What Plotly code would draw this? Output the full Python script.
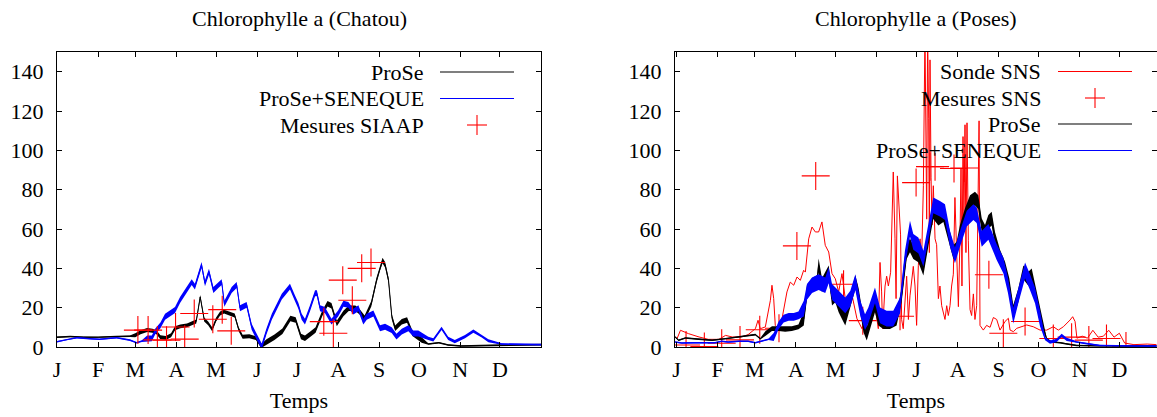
import numpy as np
import plotly.graph_objects as go

# ---------------- Chatou ----------------
chatou_prose_day = [0, 10, 20, 31, 45, 55, 59, 63, 68, 72, 75, 78, 82, 86, 89, 93, 98, 102, 105, 108,
                    111, 114, 117, 120, 123, 126, 130, 134, 137, 140, 145, 150, 154, 158, 164, 170, 176,
                    180, 184, 187, 191, 195, 200, 204, 207, 211, 216, 220, 225, 228, 232, 237, 241,
                    243.5, 245.5, 247.5, 250, 252.5, 255, 260, 264, 268, 275, 280, 288, 295, 305, 320,
                    340, 365]
chatou_prose_val = [5.0, 5.3, 5.0, 4.9, 5.3, 5.5, 6.0, 7.5, 8.6, 8.3, 7.5, 5.0, 4.6, 6.0, 9.5, 10.5,
                    11, 12, 13, 25.5, 14, 12, 9, 14, 17, 18, 17, 16, 9, 5.2, 5.5, 4.5, 0.5, 2.5, 5, 8,
                    14.5, 13.7, 5.3, 4.4, 6.5, 8.6, 17, 22, 21, 12, 17, 19.7, 19.7, 18, 14.6, 22, 34,
                    40, 44, 41.7, 34, 15.4, 9.5, 12.9, 13.7, 7, 3.6, 1.5, 2.2, 1.0, 0.5, 0.8, 1.0, 1.2]
chatou_prose_band_breaks = [58, 155, 275]
chatou_prose_band_half = [0.4, 1.0, 1.4, 0.4]

chatou_seneque_day = [0, 8, 15, 25, 32, 45, 55, 60, 64, 68, 71.5, 74, 78, 81.5, 85, 89, 92.8, 97.8,
                      101.6, 104, 109, 111.6, 114.6, 117.9, 121.7, 124.2, 126.2, 131.7, 135.5, 138,
                      143, 146.8, 150, 154.4, 158, 162, 169.5, 175.7, 179.5, 182, 184.5, 187, 190.8,
                      194.6, 196, 198.4, 202, 207, 212, 216, 219.7, 223.5, 227.3, 231, 233.6, 238.6,
                      243.6, 247.4, 252.4, 256, 260, 265, 268.7, 272.5, 280, 283.8, 290, 295, 300,
                      307.7, 314, 320.3, 325.3, 335.4, 345, 355.5, 365]
chatou_seneque_val = [2.7, 3.9, 4.7, 4.2, 3.9, 4.7, 3.5, 2.2, 3.0, 4.4, 4.4, 7.8, 11, 15.4, 17, 18.8,
                      23.9, 29, 33, 30.7, 41.7, 32.4, 38.3, 29, 31.5, 33, 22, 29, 31.5, 19.7, 21.4,
                      10.3, 6, 0.3, 8, 15.4, 25.6, 30.7, 24.7, 21, 15.4, 12.9, 19.7, 27.3, 27.3, 19.7,
                      18.8, 12.9, 17, 22, 21.4, 18, 19.7, 12.9, 15.4, 17, 9.5, 10.3, 8.6, 5.3, 7.8,
                      9.5, 6.9, 6.9, 4.4, 3.6, 9.5, 4.4, 2.7, 5.3, 8.1, 5.6, 3.2, 1.5, 1.5, 1.2, 1.2]
chatou_seneque_band_breaks = [66, 275, 330]
chatou_seneque_band_half = [0.4, 1.5, 0.8, 0.4]

siaap_day = [61, 68.7, 75.7, 82.6, 89.4, 96.3, 103.5, 117.5, 124.6, 131.4,
             201.2, 208.4, 215.5, 222.7, 229.8, 236.8]
siaap_val = [8.6, 8.6, 3.6, 3.4, 10.2, 4.0, 17, 14.1, 19, 8.2,
             12.9, 7.0, 34, 23.8, 40, 43]

# ---------------- Poses ----------------
sonde_day = [-1, 0.4, 3, 9, 17, 24, 32, 37, 42, 49, 54, 59.5, 61.5, 63.2, 67, 70.8, 72, 73.3, 74.5,
             77, 79.6, 83.3, 85.8, 88.4, 90.9, 93.4, 95.9, 97.2, 99.7, 102.2, 104.7, 107.2, 109.7,
             112.2, 114.8, 117.3, 119.8, 122.3, 124.8, 127.3, 129.8, 132.4, 136.1, 139.9, 142.4,
             146, 149.7, 152.2, 153.5, 154.7, 155.5, 157.3, 158.5, 159.8, 161.5, 163.5, 164.8,
             165.6, 166.6, 168, 169, 169.8, 171, 173.6, 174.9, 176.1, 178.6, 179.9, 181.1, 182.4,
             183.7, 184.9, 186.2, 187.4, 188.2, 188.7, 189.4, 190.2, 190.7, 191.2, 192, 192.7,
             193.7, 195, 196.2, 197.5, 198.7, 200, 202.5, 203.8, 205, 206.3, 207.5, 208.8, 210,
             211.3, 212.6, 213.8, 214.6, 215.3, 216.1, 216.8, 217.6, 218.3, 219.1, 220.1, 221.4,
             222.6, 223.9, 225.1, 226.4, 228.2, 228.9, 231.4, 233.9, 236.5, 239, 241.5, 244,
             247.8, 250.3, 251.6, 254.1, 256.6, 260.3, 264.1, 269.1, 274.2, 279.2, 284.2, 288,
             291.8, 296.8, 298.8, 300.6, 302, 306, 310, 314, 318, 322, 326, 330, 334, 338, 345,
             355, 362]
sonde_val = [5.1, 4.2, 8.5, 6.8, 5.1, 3.9, 3.9, 5.9, 5.1, 5.1, 6.3, 9.3, 13.6, 9.3, 10.2, 23.7, 31.4,
             24.6, 11, 9.3, 14.4, 28, 33, 31.4, 35.6, 33.9, 39, 38.1, 55, 61, 58.5, 58.5, 63.6, 51.7,
             48.3, 37.3, 34.7, 28, 37.3, 24.6, 22.9, 26.3, 14.4, 9.3, 14.4, 16, 21, 9.3, 43, 28, 9.3,
             31, 36, 31, 38, 89, 55, 24.6, 87, 65, 57, 14, 9.3, 36, 14, 26, 41, 31, 11, 41.5, 55,
             45, 82, 160, 107, 65, 160, 116, 48, 146, 86, 62, 82, 55, 52, 24.6, 31, 21, 14, 21, 16,
             21, 31, 37, 76, 44, 20.5, 55, 91, 31, 107, 65, 113, 48, 114, 54, 19, 16, 27, 14, 21,
             115, 11, 8.6, 11, 10, 15, 14, 8.6, 13, 14.6, 8.6, 7.8, 9.5, 10.3, 11.2, 10.3, 8.6, 8.6,
             10.3, 8.6, 10.3, 13.7, 15.4, 13, 4.5, 5.5, 4.5, 8.5, 5, 5.5, 8.5, 5, 7, 2, 1.2, 1.5,
             1.2]

sns_day = [7.2, 21, 34.1, 47.9, 62.8, 77.3, 90.8, 105, 126, 140.5, 168.6, 180.7, 191.2, 195,
           209.3, 217, 235.6, 246.5, 262.9, 284.2, 298, 311, 324.3, 339]
sns_val = [1.0, 0.2, 1.9, 3.6, 8.8, 9.5, 51.4, 87, 31.9, 13.4, 15.6, 83.6, 91.7, 91.7,
           90.8, 91, 36.7, 7, 13, 4.3, 5, 3.5, 4.3, 0.5]

poses_prose_day = [-1, 1.6, 6.7, 16.7, 26.8, 36.8, 46.9, 54.4, 59.5, 63.2, 67, 72, 77, 82, 87, 92,
                   96, 98.4, 102.2, 106, 107.2, 109.7, 112.2, 114.8, 117.3, 119.8, 122.3, 124.8,
                   127.3, 129.8, 134.9, 137.4, 141, 143.5, 146, 149.7, 152.2, 156, 161, 166, 169.8,
                   173.6, 176.1, 178.6, 182.4, 186.2, 190, 193.7, 197.5, 201.3, 205, 208.8, 211.3,
                   213.8, 217.6, 221.4, 225.1, 227.6, 230.2, 232.7, 235.2, 237.7, 240.2, 244, 247.8,
                   251, 254, 257.8, 261.6, 265.4, 267.9, 271.7, 275.4, 279.2, 283, 289.3, 294.3,
                   301.8, 319.4, 362]
poses_prose_val = [5.1, 3.4, 4.6, 3.9, 3.4, 4.2, 5.1, 5.9, 6.3, 4.2, 6.8, 9.3, 9.3, 9, 9.3, 10.2,
                   14.4, 28, 31.4, 33, 41.5, 31.4, 34.7, 38, 24.6, 26.3, 21.2, 17.8, 14.4, 19.5, 33,
                   26.3, 11, 6.8, 12.7, 21.2, 14.4, 12.7, 12.7, 14.4, 26.3, 48.3, 51.7, 48.3, 46.6,
                   39.8, 55, 68.6, 65.3, 67, 58.5, 48.3, 50, 58.5, 67, 73.7, 75.4, 73.7, 61.9, 58.5,
                   63.6, 65.3, 55, 46, 39.8, 31.4, 17.8, 26.3, 38, 34.7, 36.4, 24.6, 12.7, 4.2, 2.5,
                   2.2, 1.5, 0.8, 0.5, 0.5]
poses_prose_band_breaks = [65, 95, 277]
poses_prose_band_half = [0.4, 1.2, 3.5, 0.4]

poses_seneque_day = [-1, 4, 12, 22, 29, 34, 39, 47, 54, 59.5, 64.5, 69.5, 73.3, 77, 80.8, 84.6,
                     88.4, 92, 96, 98.4, 102.2, 107.2, 112.2, 114.8, 117.3, 122.3, 127.3, 131.1,
                     134.9, 138.7, 142.2, 144.7, 149.7, 153.5, 158.5, 163.5, 168.6, 172.3, 176.1,
                     178.6, 182.4, 186.2, 190, 193.7, 198.7, 202.5, 206.3, 210, 213.8, 218.9, 223.9,
                     226.4, 230.2, 235.2, 237.7, 241.5, 246.5, 250, 254, 257.8, 262.9, 266.6, 270.4,
                     274.2, 278, 281.7, 286.7, 290.5, 294.3, 301.8, 309.4, 319.4, 344.6, 362]
poses_seneque_val = [2.5, 2.0, 2.2, 2.2, 2.2, 2.9, 2.5, 2.9, 2.9, 2.2, 2.9, 3.9, 5.1, 11, 14.4,
                     15.3, 15.3, 16.1, 19.5, 28, 31.4, 33, 31.4, 36.4, 28, 24.6, 21.2, 24.6, 33,
                     19.5, 12.7, 16.1, 26.3, 16.1, 14.4, 14.4, 21.2, 44.9, 60.2, 53.4, 51.7, 44.9,
                     58.5, 72, 70.3, 68.6, 55, 46.6, 55, 65.3, 68.6, 67, 55, 58.5, 55, 48.3, 41.5,
                     31.4, 16, 26.3, 39, 33, 26.3, 14.4, 4.2, 2.5, 3.4, 5.9, 3.9, 2.5, 1.7, 0.8, 0.5,
                     0.5]
poses_seneque_band_breaks = [70, 95, 277, 300]
poses_seneque_band_half = [0.4, 2.0, 4.0, 0.8, 0.4]

month_starts = [0, 31, 59, 90, 120, 151, 181, 212, 243, 273, 304, 334]
month_labels = ["J", "F", "M", "A", "M", "J", "J", "A", "S", "O", "N", "D"]
y_ticks = [0, 20, 40, 60, 80, 100, 120, 140]

BLACK, BLUE, RED = "#000000", "#0000ff", "#ff0000"
FONT = "Times New Roman, Liberation Serif, DejaVu Serif, serif"
FSIZE = 22
W, H = 1157, 417

# Plot-area box in page pixels
ML, MT, MB = 57, 52, 70
PW, PH = W - ML, H - MT - MB


def band_traces(days, vals, breaks, halfwidths, color, xa, ya):
    """Noisy model output: a filled envelope plus the central line."""
    d = np.asarray(days, float)
    v = np.asarray(vals, float)
    hw = np.asarray(halfwidths, float)[np.searchsorted(breaks, d)]
    upper, lower = v + hw, np.clip(v - hw, -5, None)
    env = go.Scatter(x=np.concatenate([d, d[::-1]]), y=np.concatenate([upper, lower[::-1]]),
                     fill="toself", fillcolor=color, mode="lines", line=dict(width=0, color=color),
                     hoverinfo="skip", showlegend=False, xaxis=xa, yaxis=ya)
    line = go.Scatter(x=d, y=v, mode="lines", line=dict(color=color, width=1),
                      showlegend=False, xaxis=xa, yaxis=ya)
    return [env, line]


def crosses(days, vals, xa, ya):
    return go.Scatter(x=days, y=vals, mode="markers",
                      marker=dict(symbol="cross-thin", size=20, line=dict(color=RED, width=1.1)),
                      showlegend=False, xaxis=xa, yaxis=ya)


fig = go.Figure()

# Chatou (left)
for t in band_traces(chatou_prose_day, chatou_prose_val, chatou_prose_band_breaks,
                     chatou_prose_band_half, BLACK, "x", "y"):
    fig.add_trace(t)
for t in band_traces(chatou_seneque_day, chatou_seneque_val, chatou_seneque_band_breaks,
                     chatou_seneque_band_half, BLUE, "x", "y"):
    fig.add_trace(t)
fig.add_trace(crosses(siaap_day, siaap_val, "x", "y"))

# Poses (right)
fig.add_trace(go.Scatter(x=sonde_day, y=sonde_val, mode="lines", line=dict(color=RED, width=1),
                         showlegend=False, xaxis="x2", yaxis="y2"))
fig.add_trace(crosses(sns_day, sns_val, "x2", "y2"))
for t in band_traces(poses_prose_day, poses_prose_val, poses_prose_band_breaks,
                     poses_prose_band_half, BLACK, "x2", "y2"):
    fig.add_trace(t)
for t in band_traces(poses_seneque_day, poses_seneque_val, poses_seneque_band_breaks,
                     poses_seneque_band_half, BLUE, "x2", "y2"):
    fig.add_trace(t)

frame = dict(showline=True, linecolor="black", linewidth=1.2, mirror="ticks", ticks="inside",
             ticklen=5, tickwidth=1, tickcolor="black", showgrid=False, zeroline=False,
             automargin=False, tickfont=dict(family=FONT, size=FSIZE, color="black"))

xcommon = dict(frame, tickvals=month_starts, ticktext=month_labels, ticklabelstandoff=2,
               title=dict(text="Temps", font=dict(family=FONT, size=FSIZE, color="black"),
                          standoff=12))
ycommon = dict(frame, range=[0, 150], tickvals=y_ticks, ticklabelstandoff=8)

fig.update_layout(
    width=W, height=H, margin=dict(l=ML, r=0, t=MT, b=MB, autoexpand=False),
    paper_bgcolor="white", plot_bgcolor="white", showlegend=False,
    font=dict(family=FONT, size=FSIZE, color="black"),
    xaxis=dict(xcommon, domain=[0, 484 / PW], range=[0, 365], anchor="y"),
    yaxis=dict(ycommon, domain=[0, 1], anchor="x"),
    xaxis2=dict(xcommon, domain=[(675 - ML) / PW, 1.0], range=[-1.13, 362.4], anchor="y2"),
    yaxis2=dict(ycommon, domain=[0, 1], anchor="x2"),
)


def px(x):
    return (x - ML) / PW


def py(y):
    return (H - MB - y) / PH


# Titles
for cx, txt in [(299, "Chlorophylle a (Chatou)"), (916, "Chlorophylle a (Poses)")]:
    fig.add_annotation(x=px(cx), y=py(18), xref="paper", yref="paper", text=txt,
                       showarrow=False, xanchor="center", yanchor="middle",
                       font=dict(family=FONT, size=FSIZE, color="black"))

# Legends: right-aligned text followed by a line or cross sample
legend_left = [("ProSe", "line", BLACK), ("ProSe+SENEQUE", "line", BLUE),
               ("Mesures SIAAP", "cross", RED)]
legend_right = [("Sonde SNS", "line", RED), ("Mesures SNS", "cross", RED),
                ("ProSe", "line", BLACK), ("ProSe+SENEQUE", "line", BLUE)]


def draw_legend(entries, text_right, s0, s1, rows):
    for (label, kind, color), ry in zip(entries, rows):
        fig.add_annotation(x=px(text_right), y=py(ry), xref="paper", yref="paper", text=label,
                           showarrow=False, xanchor="right", yanchor="middle",
                           font=dict(family=FONT, size=FSIZE, color="black"))
        if kind == "line":
            fig.add_shape(type="line", xref="paper", yref="paper", x0=px(s0), x1=px(s1),
                          y0=py(ry), y1=py(ry), line=dict(color=color, width=1.2))
        else:
            cx = (s0 + s1) / 2
            fig.add_shape(type="line", xref="paper", yref="paper", x0=px(cx - 10),
                          x1=px(cx + 10), y0=py(ry), y1=py(ry), line=dict(color=color, width=1.1))
            fig.add_shape(type="line", xref="paper", yref="paper", x0=px(cx), x1=px(cx),
                          y0=py(ry - 10), y1=py(ry + 10), line=dict(color=color, width=1.1))


draw_legend(legend_left, 426, 440, 514, [72, 98.5, 125])
draw_legend(legend_right, 1043, 1058, 1132, [71.5, 98, 124, 150.5])

fig.write_html("out.html")
